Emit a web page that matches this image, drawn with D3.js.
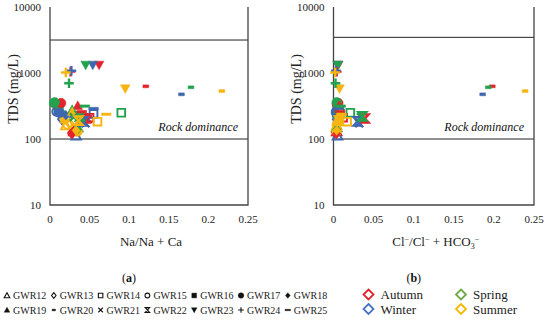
<!DOCTYPE html>
<html>
<head>
<meta charset="utf-8">
<script src="https://cdn.jsdelivr.net/npm/d3@7"></script>
<style>
  body { margin: 0; background: #fff; }
  svg { display: block; }
</style>
</head>
<body>
<div id="chart"></div>
<script>
// wells (marker shape) and seasons (marker colour)
const wells = ["GWR12", "GWR13", "GWR14", "GWR15", "GWR16", "GWR17", "GWR18",
               "GWR19", "GWR20", "GWR21", "GWR22", "GWR23", "GWR24", "GWR25"];
const seasons = ["Autumn", "Winter", "Spring", "Summer"];
const seasonColors = ["#E3232B", "#3F66B0", "#23A24D", "#F7B512"];
const legendColors = ["#E3232B", "#4A74C0", "#6DAA45", "#F5B800"];

// TDS (mg/L), one value per well
const tdsAutumn = [130, 125, 210, 340, 330, 350, 120, 320, 628, 200, 205, 1320, 1050, 260];
const tdsWinter = [112, 200, 240, 260, 270, 250, 230, 240, 475, 172, 185, 1320, 1080, 290];
const tdsSpring = [150, 220, 250, 350, 290, 360, 140, 280, 607, 215, 220, 1320, 698, 315];
const tdsSummer = [160, 170, 183, 165, 200, 130, 135, 260, 533, 195, 190, 578, 1020, 237];

// Na/(Na + Ca)
const naAutumn = [0.030, 0.028, 0.050, 0.008, 0.010, 0.014, 0.027, 0.035, 0.121, 0.048, 0.044, 0.062, 0.026, 0.040];
const naWinter = [0.033, 0.015, 0.055, 0.008, 0.010, 0.012, 0.020, 0.030, 0.166, 0.045, 0.042, 0.054, 0.027, 0.055];
const naSpring = [0.035, 0.018, 0.090, 0.005, 0.012, 0.006, 0.035, 0.028, 0.178, 0.030, 0.038, 0.045, 0.024, 0.044];
const naSummer = [0.020, 0.025, 0.060, 0.022, 0.018, 0.035, 0.033, 0.028, 0.217, 0.038, 0.036, 0.095, 0.020, 0.071];

// Cl/(Cl + HCO3)
const clAutumn = [0.004, 0.003, 0.012, 0.004, 0.005, 0.006, 0.004, 0.007, 0.198, 0.038, 0.039, 0.006, 0.004, 0.008];
const clWinter = [0.005, 0.004, 0.008, 0.003, 0.004, 0.003, 0.005, 0.006, 0.186, 0.032, 0.030, 0.005, 0.003, 0.007];
const clSpring = [0.004, 0.004, 0.021, 0.005, 0.005, 0.004, 0.004, 0.006, 0.193, 0.034, 0.036, 0.0055, 0.0025, 0.009];
const clSummer = [0.004, 0.005, 0.017, 0.004, 0.006, 0.004, 0.004, 0.009, 0.239, 0.006, 0.007, 0.0075, 0.002, 0.010];

// upper/lower horizontal guide lines (mg/L) for panels a and b
const upperLine = [3160, 3470];
const lowerLine = [100, 100];

const xTicks = [0, 0.05, 0.1, 0.15, 0.2, 0.25];
const xTickLabels = ["0", "0.05", "0.1", "0.15", "0.2", "0.25"];
const yTicks = [10, 100, 1000, 10000];
const yTickLabels = ["10", "100", "1000", "10000"];

const tdsBySeason = [tdsAutumn, tdsWinter, tdsSpring, tdsSummer];
const naBySeason = [naAutumn, naWinter, naSpring, naSummer];
const clBySeason = [clAutumn, clWinter, clSpring, clSummer];

const width = 550, height = 323;
const serif = "'Liberation Serif', 'DejaVu Serif', serif";

const svg = d3.select("#chart").append("svg")
  .attr("width", width).attr("height", height)
  .style("font-family", serif);

// marker shapes, r = half size
const shapes = {
  GWR12: { d: r => `M0,${-r}L${r},${r * 0.8}L${-r},${r * 0.8}Z`, fill: false },
  GWR13: { d: r => `M0,${-r}L${r * 0.8},0L0,${r}L${-r * 0.8},0Z`, fill: false },
  GWR14: { d: r => `M${-r * 0.8},${-r * 0.8}H${r * 0.8}V${r * 0.8}H${-r * 0.8}Z`, fill: false },
  GWR15: { d: r => `M${r * 0.85},0A${r * 0.85},${r * 0.85} 0 1,1 ${-r * 0.85},0A${r * 0.85},${r * 0.85} 0 1,1 ${r * 0.85},0Z`, fill: false },
  GWR16: { d: r => `M${-r * 0.85},${-r * 0.85}H${r * 0.85}V${r * 0.85}H${-r * 0.85}Z`, fill: true },
  GWR17: { d: r => `M${r},0A${r},${r} 0 1,1 ${-r},0A${r},${r} 0 1,1 ${r},0Z`, fill: true },
  GWR18: { d: r => `M0,${-r}L${r * 0.85},0L0,${r}L${-r * 0.85},0Z`, fill: true },
  GWR19: { d: r => `M0,${-r}L${r},${r * 0.8}L${-r},${r * 0.8}Z`, fill: true },
  GWR20: { d: r => `M${-r * 0.6},${-r * 0.3}H${r * 0.6}V${r * 0.3}H${-r * 0.6}Z`, fill: true },
  GWR21: { d: r => `M${-r * 0.8},${-r * 0.8}L${r * 0.8},${r * 0.8}M${r * 0.8},${-r * 0.8}L${-r * 0.8},${r * 0.8}`, fill: false, stroke: 2.2 },
  GWR22: { d: r => `M${-r * 0.8},${-r * 0.85}H${r * 0.8}L${-r * 0.8},${r * 0.85}H${r * 0.8}Z`, fill: false, stroke: 2.4 },
  GWR23: { d: r => `M0,${r}L${r},${-r * 0.8}L${-r},${-r * 0.8}Z`, fill: true },
  GWR24: { d: r => `M${-r},0H${r}M0,${-r}V${r}`, fill: false, stroke: 2.4 },
  GWR25: { d: r => `M${-r},${-r * 0.25}H${r}V${r * 0.25}H${-r}Z`, fill: true }
};

const panels = [
  { x0: 50, x1: 248, xData: naBySeason, title: "Na/Na + Ca", tag: "a" },
  { x0: 333.5, x1: 534, xData: clBySeason, title: null, tag: "b" }
];

const yScale = d3.scaleLog().domain([10, 10000]).range([205, 7]);

panels.forEach((p, pi) => {
  const x = d3.scaleLinear().domain([0, 0.25]).range([p.x0, p.x1]);
  const g = svg.append("g");

  // guide lines
  [upperLine[pi], lowerLine[pi]].forEach(v => {
    g.append("line")
      .attr("x1", p.x0).attr("x2", p.x1)
      .attr("y1", yScale(v)).attr("y2", yScale(v))
      .attr("stroke", "#222").attr("stroke-width", 1);
  });

  // frame (left, right, bottom)
  g.append("path")
    .attr("d", `M${p.x0},${yScale(10000)}V${yScale(10)}H${p.x1}V${yScale(10000)}`)
    .attr("fill", "none").attr("stroke", "#444").attr("stroke-width", 1.3);

  // y tick labels
  yTicks.forEach((t, i) => {
    g.append("text")
      .attr("x", p.x0 - 9).attr("y", yScale(t)).attr("dy", "0.35em")
      .attr("text-anchor", "end").attr("font-size", 11).attr("fill", "#222")
      .text(yTickLabels[i]);
  });

  // x tick labels
  xTicks.forEach((t, i) => {
    g.append("text")
      .attr("x", x(t)).attr("y", 223)
      .attr("text-anchor", "middle").attr("font-size", 11).attr("fill", "#222")
      .text(xTickLabels[i]);
  });

  // y title
  g.append("text")
    .attr("transform", `translate(${p.x0 - 37},${89}) rotate(-90)`)
    .attr("text-anchor", "middle").attr("dy", "0.35em")
    .attr("font-size", 14).attr("fill", "#222")
    .text("TDS (mg/L)");

  // x title
  const xt = g.append("text")
    .attr("x", (p.x0 + p.x1) / 2 + 2).attr("y", 246)
    .attr("text-anchor", "middle").attr("font-size", 13).attr("fill", "#222");
  if (p.title) {
    xt.text(p.title);
  } else {
    xt.append("tspan").text("Cl");
    xt.append("tspan").attr("dy", -4).attr("font-size", 8).text("−");
    xt.append("tspan").attr("dy", 4).text("/Cl");
    xt.append("tspan").attr("dy", -4).attr("font-size", 8).text("−");
    xt.append("tspan").attr("dy", 4).text(" + HCO");
    xt.append("tspan").attr("dy", 3).attr("font-size", 8).text("3");
    xt.append("tspan").attr("dy", -7).attr("font-size", 8).text("−");
  }

  // panel tag
  const tg = g.append("text")
    .attr("x", (p.x0 + p.x1) / 2 - 20).attr("y", 282)
    .attr("text-anchor", "middle").attr("font-size", 12).attr("fill", "#111");
  tg.append("tspan").text("(");
  tg.append("tspan").attr("font-weight", "bold").text(p.tag);
  tg.append("tspan").text(")");

  // region label
  g.append("text")
    .attr("x", p.x1 - 10).attr("y", 131)
    .attr("text-anchor", "end").attr("font-style", "italic")
    .attr("font-size", 12).attr("fill", "#111")
    .text("Rock dominance");

  // points
  wells.forEach((w, wi) => {
    seasons.forEach((s, si) => {
      const sh = shapes[w];
      const c = seasonColors[si];
      g.append("path")
        .attr("transform", `translate(${x(p.xData[si][wi])},${yScale(tdsBySeason[si][wi])})`)
        .attr("d", sh.d(4.8))
        .attr("fill", sh.fill ? c : "none")
        .attr("stroke", c)
        .attr("stroke-width", sh.fill ? 0.5 : (sh.stroke || 1.9))
        .attr("stroke-linejoin", "miter");
    });
  });
});

// well legend
const legendRow = [295.5, 310];
wells.forEach((w, i) => {
  const row = i < 7 ? 0 : 1;
  const col = i % 7;
  const lx = 7 + col * 46.8;
  const ly = legendRow[row];
  const sh = shapes[w];
  svg.append("path")
    .attr("transform", `translate(${lx},${ly})`)
    .attr("d", sh.d(2.8))
    .attr("fill", sh.fill ? "#111" : "none")
    .attr("stroke", "#111")
    .attr("stroke-width", sh.fill ? 0.4 : 1.1);
  svg.append("text")
    .attr("x", lx + 6).attr("y", ly).attr("dy", "0.35em")
    .attr("font-size", 10).attr("fill", "#222")
    .text(w);
});

// season legend
const seasonPos = [[368.5, 294.5], [368.5, 309], [461, 294.5], [461, 309]];
const seasonOrder = [0, 1, 2, 3];
seasonOrder.forEach(si => {
  const [lx, ly] = seasonPos[si];
  svg.append("path")
    .attr("transform", `translate(${lx},${ly})`)
    .attr("d", "M0,-5L5,0L0,5L-5,0Z")
    .attr("fill", "none").attr("stroke", legendColors[si]).attr("stroke-width", 1.8);
  svg.append("text")
    .attr("x", lx + 12).attr("y", ly).attr("dy", "0.35em")
    .attr("font-size", 13).attr("fill", "#222")
    .text(seasons[si]);
});
</script>
</body>
</html>
